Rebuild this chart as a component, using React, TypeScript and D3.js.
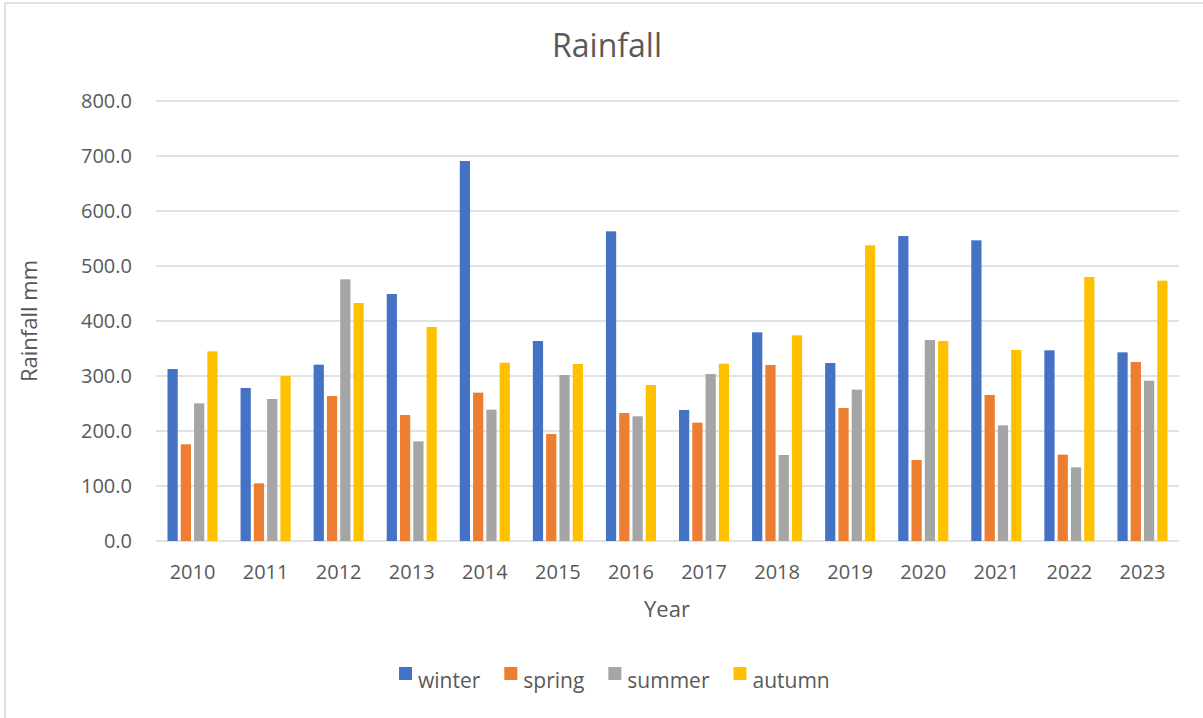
import React, { useMemo } from "react";
import * as d3 from "d3";

const years = ["2010","2011","2012","2013","2014","2015","2016","2017","2018","2019","2020","2021","2022","2023"];
const seriesNames = ["winter", "spring", "summer", "autumn"];
const winter = [312.7, 278.2, 320.6, 449.1, 690.9, 363.6, 563.0, 238.2, 379.4, 323.6, 554.5, 546.7, 346.7, 343.0];
const spring = [175.8, 104.8, 263.6, 229.1, 269.7, 194.5, 232.7, 215.2, 320.0, 241.8, 147.3, 265.5, 157.0, 325.5];
const summer = [250.3, 258.2, 475.8, 181.2, 238.8, 301.8, 226.7, 303.6, 156.4, 275.2, 365.5, 210.3, 133.9, 291.5];
const autumn = [344.8, 300.0, 432.7, 389.1, 324.2, 321.8, 283.6, 322.4, 373.9, 537.6, 363.6, 347.3, 480.0, 473.3];
const yTicks = [0, 100, 200, 300, 400, 500, 600, 700, 800];
const colors = ["#4472C4", "#ED7D31", "#A5A5A5", "#FFC000"];

const W = 1203, H = 718;
const FONT = "'Open Sans', 'Noto Sans', sans-serif";
const TXT = "#595959";

function measure(text: string, size: number) {
  const c = document.createElement("canvas").getContext("2d");
  if (!c) return text.length * size * 0.5;
  c.font = `${size}px 'Open Sans'`;
  return c.measureText(text).width;
}

export default function App() {
  const allSeries = [winter, spring, summer, autumn];
  const left = 156, right = 1179, top = 101, bottom = 541;
  const x0 = d3.scaleBand<string>().domain(years).range([left, right]).padding(0);
  const inset = 11.5;
  const x1 = d3.scaleBand<string>().domain(seriesNames)
    .range([inset, x0.bandwidth() - inset]).paddingInner(0.23).paddingOuter(0);
  const y = d3.scaleLinear().domain([0, 800]).range([bottom, top]);

  const legend = useMemo(() => {
    let x = 399;
    return seriesNames.map((n, i) => {
      const item = { name: n, x, color: colors[i] };
      x += 13 + 6 + measure(n, 21) + 24;
      return item;
    });
  }, []);

  return (
    <svg width={W} height={H} style={{ position: "absolute", left: 0, top: 0, background: "#fff" }}
      fontFamily={FONT}>
      <rect x={0} y={0} width={W} height={H} fill="#fff" />
      <rect x={5} y={3} width={W + 10} height={H + 10} fill="none" stroke="#d9d9d9" strokeWidth={1.5} />
      <text x={607} y={57} textAnchor="middle" fontSize={32} fill={TXT}>Rainfall</text>
      {yTicks.map(t => (
        <g key={t}>
          <line x1={left} x2={right} y1={y(t)} y2={y(t)} stroke="#d9d9d9" strokeWidth={1.5} />
          <text x={132} y={y(t)} dy="0.36em" textAnchor="end" fontSize={20} fill={TXT}>{t.toFixed(1)}</text>
        </g>
      ))}
      {years.map((yr, yi) => (
        <g key={yr} transform={`translate(${x0(yr)},0)`}>
          {allSeries.map((s, si) => (
            <rect key={si} x={x1(seriesNames[si])} width={x1.bandwidth()}
              y={y(s[yi])} height={y(0) - y(s[yi])} fill={colors[si]} />
          ))}
          <text x={x0.bandwidth() / 2} y={579} textAnchor="middle" fontSize={20} fill={TXT}>{yr}</text>
        </g>
      ))}
      <text x={667} y={617} textAnchor="middle" fontSize={22} fill={TXT}>Year</text>
      <text transform={`translate(37,${(top + bottom) / 2}) rotate(-90)`} textAnchor="middle" fontSize={22} fill={TXT}>Rainfall mm</text>
      {legend.map(l => (
        <g key={l.name}>
          <rect x={l.x} y={667} width={13} height={13} fill={l.color} />
          <text x={l.x + 19} y={688} fontSize={21} fill={TXT}>{l.name}</text>
        </g>
      ))}
    </svg>
  );
}
